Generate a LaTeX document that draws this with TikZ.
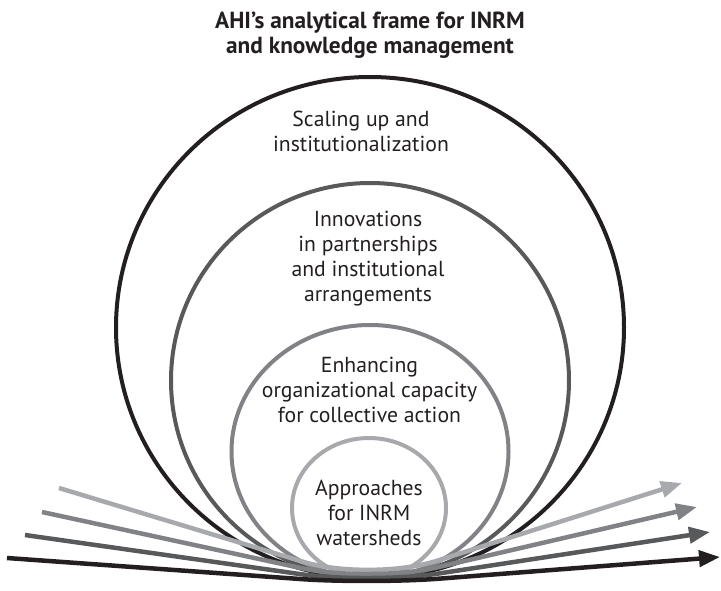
\documentclass[tikz,border=0pt]{standalone}
\usepackage{fontspec}
\setmainfont{PT Sans}
\usetikzlibrary{arrows.meta}
\definecolor{ink}{HTML}{231F20}
\definecolor{gdark}{HTML}{58595B}
\definecolor{gmid}{HTML}{808285}
\definecolor{glight}{HTML}{A7A9AC}
\begin{document}
\begin{tikzpicture}[x=1pt,y=-1pt,
  ring/.style={line width=4pt},
  flow/.style={line width=4.5pt, rounded corners=70pt, -{Triangle[length=21pt,width=16pt]}},
  lbl/.style={font=\fontsize{21.7}{25}\selectfont, align=center, anchor=base, inner sep=0pt, text=ink},
  ttl/.style={font=\bfseries\fontsize{23.3}{25}\selectfont, align=center, anchor=base, inner sep=0pt, text=ink}]
\useasboundingbox (0,0) rectangle (721,590);
% rings
\draw[ring, ink]    (370,327.5) ellipse [x radius=254pt, y radius=250.5pt];
\draw[ring, gdark]  (370,380.5) ellipse [x radius=199pt, y radius=197.5pt];
\draw[ring, gmid]   (370,451.5) ellipse [x radius=138.5pt, y radius=126.5pt];
\draw[ring, glight] (369,508)   ellipse [x radius=77pt, y radius=70pt];
% flow arrows
\coordinate (l4s) at (59,488);  \coordinate (l4m) at (370,582);  \coordinate (l4e) at (682,483);
\coordinate (l3s) at (42,512);  \coordinate (l3m) at (370,583);  \coordinate (l3e) at (697,507);
\coordinate (l2s) at (25,535);  \coordinate (l2m) at (370,584);  \coordinate (l2e) at (710,532);
\coordinate (l1s) at (7,558);   \coordinate (l1m) at (370,584);  \coordinate (l1e) at (720,557);
\draw[flow, glight] (l4s) -- (l4m) -- (l4e);
\draw[flow, gmid]   (l3s) -- (l3m) -- (l3e);
\draw[flow, gdark]  (l2s) -- (l2m) -- (l2e);
\draw[flow, ink]    (l1s) -- (l1m) -- (l1e);
% texts (anchor = baseline of last line)
\node[ttl] (title) at (370,53.3) {AHI’s analytical frame for INRM\\and knowledge management};
\node[lbl] (t1) at (361,151.7) {Scaling up and\\institutionalization};
\node[lbl] (t2) at (368,301) {Innovations\\in partnerships\\and institutional\\arrangements};
\node[lbl] (t3) at (369.5,422) {Enhancing\\organizational capacity\\for collective action};
\node[lbl] (t4) at (369,545) {Approaches\\for INRM\\watersheds};
\end{tikzpicture}
\end{document}
